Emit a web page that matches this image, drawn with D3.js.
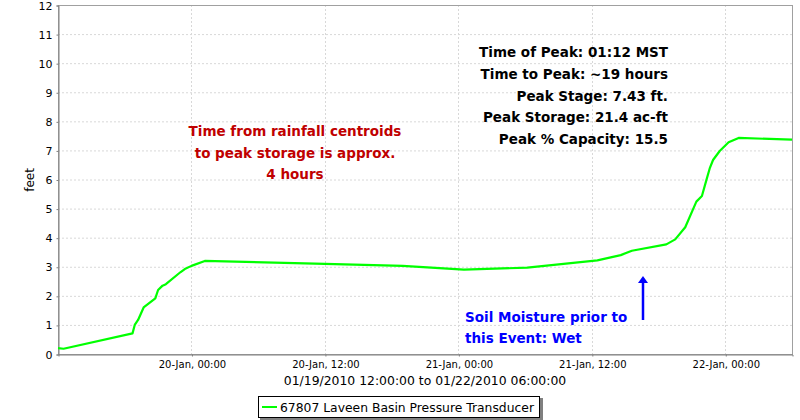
<!DOCTYPE html>
<html><head><meta charset="utf-8">
<script src="https://cdn.jsdelivr.net/npm/d3@7"></script>
<style>body{margin:0;background:#fff}svg{display:block}</style>
</head><body><svg id="c" width="800" height="420"></svg>
<script>
const times = ["2010-01-19 12:00","2010-01-19 12:30","2010-01-19 18:42","2010-01-19 18:54","2010-01-19 19:12","2010-01-19 19:42","2010-01-19 20:45","2010-01-19 21:00","2010-01-19 21:24","2010-01-19 21:42","2010-01-19 23:00","2010-01-19 23:24","2010-01-20 00:00","2010-01-20 01:12","2010-01-20 12:00","2010-01-20 19:00","2010-01-21 00:30","2010-01-21 06:12","2010-01-21 12:30","2010-01-21 14:36","2010-01-21 15:36","2010-01-21 18:42","2010-01-21 19:30","2010-01-21 20:24","2010-01-21 21:24","2010-01-21 21:54","2010-01-21 22:18","2010-01-21 22:36","2010-01-21 22:54","2010-01-21 23:30","2010-01-22 00:18","2010-01-22 01:12","2010-01-22 06:00"];
const stage = [0.2,0.18,0.71,1.0,1.17,1.6,1.91,2.2,2.35,2.4,2.81,2.92,3.03,3.2,3.1,3.03,2.9,2.97,3.22,3.4,3.55,3.77,3.94,4.36,5.24,5.43,5.98,6.38,6.67,6.98,7.28,7.43,7.37];
const yTicks = [0,1,2,3,4,5,6,7,8,9,10,11,12];
const xTicks = ["2010-01-20 00:00","2010-01-20 12:00","2010-01-21 00:00","2010-01-21 12:00","2010-01-22 00:00"];
const seriesName = "67807 Laveen Basin Pressure Transducer";
const xTitle = "01/19/2010 12:00:00 to 01/22/2010 06:00:00";
const yTitle = "feet";
const peakLines = ["Time of Peak: 01:12 MST","Time to Peak: ~19 hours","Peak Stage: 7.43 ft.","Peak Storage: 21.4 ac-ft","Peak % Capacity: 15.5"];
const redLines = ["Time from rainfall centroids","to peak storage is approx.","4 hours"];
const blueLines = ["Soil Moisture prior to","this Event: Wet"];

const parse = d3.timeParse("%Y-%m-%d %H:%M");
const data = times.map((t,i)=>({t:parse(t), v:stage[i]}));
const svg = d3.select("#c");
const L=58, R=792, T=5, B=354;
const x = d3.scaleTime().domain([parse("2010-01-19 12:00"), parse("2010-01-22 06:00")]).range([L,R]);
const y = d3.scaleLinear().domain([0,12]).range([B,T]);
const font = "DejaVu Sans, sans-serif";

// grid
const g = svg.append("g");
g.selectAll(".gy").data(yTicks).join("line")
  .attr("x1",L).attr("x2",R).attr("y1",d=>y(d)+0.5).attr("y2",d=>y(d)+0.5)
  .attr("stroke","#d8d8d8").attr("stroke-dasharray","2,2");
g.selectAll(".gx").data(xTicks.map(parse)).join("line")
  .attr("x1",d=>Math.round(x(d))+0.5).attr("x2",d=>Math.round(x(d))+0.5).attr("y1",T).attr("y2",B)
  .attr("stroke","#d8d8d8").attr("stroke-dasharray","2,2");
svg.append("rect").attr("x",L+0.5).attr("y",T+0.5).attr("width",R-L).attr("height",B-T)
  .attr("fill","none").attr("stroke","#a0a0a0");

// axes
const ya = svg.append("g").attr("transform",`translate(${L+0.5},0.5)`)
  .call(d3.axisLeft(y).tickValues(yTicks).tickSize(2).tickPadding(4).tickFormat(d3.format("d")));
const xa = svg.append("g").attr("transform",`translate(0.5,${B+0.5})`)
  .call(d3.axisBottom(x).tickValues(xTicks.map(parse)).tickSize(2).tickPadding(4).tickFormat(d3.timeFormat("%d-%b, %H:%M")));
[ya,xa].forEach(a=>{a.select(".domain").attr("stroke","#808080");a.selectAll(".tick line").attr("stroke","#808080");
  a.selectAll("text").attr("font-family",font).attr("fill","#000");});
ya.selectAll("text").attr("font-size",11);
xa.selectAll("text").attr("font-size",10);

// line
svg.append("path").datum(data)
  .attr("d",d3.line().x(d=>x(d.t)).y(d=>y(d.v)))
  .attr("fill","none").attr("stroke","#00ff00").attr("stroke-width",2.2).attr("stroke-linejoin","round");

// titles
svg.append("text").attr("x",425).attr("y",385).attr("text-anchor","middle")
  .attr("font-family",font).attr("font-size",12.4).text(xTitle);
svg.append("text").attr("transform","translate(34,180) rotate(-90)").attr("text-anchor","middle")
  .attr("font-family",font).attr("font-size",12).text(yTitle);

// annotations
svg.append("g").selectAll("text").data(peakLines).join("text")
  .attr("x",668).attr("y",(d,i)=>57+i*21.8).attr("text-anchor","end")
  .attr("font-family",font).attr("font-weight","bold").attr("font-size",13.5).text(d=>d);
svg.append("g").selectAll("text").data(redLines).join("text")
  .attr("x",295).attr("y",(d,i)=>136+i*21.5).attr("text-anchor","middle").attr("fill","#c00000")
  .attr("font-family",font).attr("font-weight","bold").attr("font-size",13.5).text(d=>d);
svg.append("g").selectAll("text").data(blueLines).join("text")
  .attr("x",465).attr("y",(d,i)=>322+i*21).attr("fill","#0000ff")
  .attr("font-family",font).attr("font-weight","bold").attr("font-size",13.5).text(d=>d);
// arrow
svg.append("line").attr("x1",643).attr("x2",643).attr("y1",320).attr("y2",282).attr("stroke","#0000ff").attr("stroke-width",2.5);
svg.append("path").attr("d","M638,283 L643,276 L648,283 Z").attr("fill","#0000ff");

// legend
svg.append("rect").attr("x",260).attr("y",398).attr("width",283).attr("height",22).attr("fill","#808080");
svg.append("rect").attr("x",258.5).attr("y",396.5).attr("width",281).attr("height",21).attr("fill","#fff").attr("stroke","#000");
svg.append("line").attr("x1",262).attr("x2",277).attr("y1",407).attr("y2",407).attr("stroke","#00ff00").attr("stroke-width",2);
svg.append("text").attr("x",280).attr("y",412).attr("font-family",font).attr("font-size",12.2)
  .attr("textLength",254).attr("lengthAdjust","spacingAndGlyphs").text(seriesName);
</script></body></html>
